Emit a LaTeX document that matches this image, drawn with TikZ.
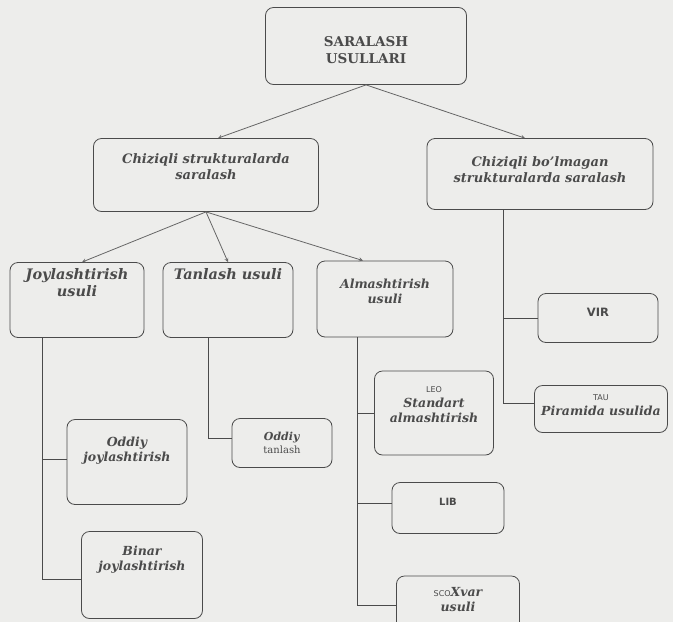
\documentclass[tikz,border=0pt]{standalone}
\usepackage{fontspec}
\setmainfont{DejaVu Serif}
\setsansfont{DejaVu Sans}
\usepackage{tikz}
\usetikzlibrary{shapes, arrows, positioning}
\definecolor{paper}{HTML}{EDEDEB}
\definecolor{ink}{HTML}{4B4B4B}

\begin{document}
\begin{tikzpicture}[x=1pt, y=-1pt]

% Define block styles
\tikzstyle{block} = [rectangle, rounded corners=8pt, draw=ink, line width=0.8pt, inner sep=0pt]
\tikzstyle{txt} = [text=ink, align=center, font=\bfseries\itshape\fontsize{12.5}{15}\selectfont]
\tikzstyle{bigtxt} = [txt, font=\bfseries\itshape\fontsize{14.5}{17}\selectfont]
\tikzstyle{abbr} = [text=ink, font=\sffamily\bfseries\fontsize{11.5}{13}\selectfont]
\tikzstyle{arrow} = [draw=ink!85, line width=0.8pt, ->, >=stealth]
\tikzstyle{line} = [draw=ink, line width=0.8pt]
\newcommand{\smallsf}[1]{{\sffamily\mdseries\upshape\fontsize{8}{10}\selectfont #1}}

% Scanned page
\fill [paper] (0,0) rectangle (673,622);
\useasboundingbox (0,0) rectangle (673,622);

% Define nodes
\node (root) [block, minimum width=201pt, minimum height=77pt, label={[txt, font=\bfseries\fontsize{13.5}{17}\selectfont, yshift=-4pt]center:{SARALASH\\USULLARI}}] at (366,46) {};

\node (lin) [block, minimum width=225pt, minimum height=73pt, label={[txt, font=\bfseries\itshape\fontsize{13}{16}\selectfont, yshift=8pt]center:{Chiziqli strukturalarda\\saralash}}] at (206,175) {};
\node (nonlin) [block, minimum width=226pt, minimum height=71pt, label={[txt, font=\bfseries\itshape\fontsize{13}{16}\selectfont, yshift=4pt]center:{Chiziqli bo'lmagan\\strukturalarda saralash}}] at (540,174) {};

\node (joy) [block, minimum width=134pt, minimum height=75pt, label={[bigtxt, yshift=17pt]center:{Joylashtirish\\usuli}}] at (77,300) {};
\node (tan) [block, minimum width=130pt, minimum height=75pt, label={[bigtxt, yshift=26pt]center:{Tanlash usuli}}] at (228,300) {};
\node (alm) [block, minimum width=136pt, minimum height=76pt, label={[txt, yshift=8pt]center:{Almashtirish\\usuli}}] at (385,299) {};

\node (oddj) [block, minimum width=120pt, minimum height=85pt, label={[txt, yshift=11pt]center:{Oddiy\\joylashtirish}}] at (127,462) {};
\node (binar) [block, minimum width=121pt, minimum height=87pt, label={[txt, yshift=15pt]center:{Binar\\joylashtirish}}] at (142,575) {};
\node (oddt) [block, minimum width=100pt, minimum height=49pt, label={[txt, font=\fontsize{10}{13}\selectfont]center:{\textbf{\textit{\fontsize{11}{13}\selectfont Oddiy}}\\tanlash}}] at (282,443) {};

\node (leo) [block, minimum width=119pt, minimum height=84pt, label={[txt, yshift=8pt]center:{\smallsf{LEO}\\Standart\\almashtirish}}] at (434,413) {};
\node (lib) [block, minimum width=112pt, minimum height=51pt, label={[abbr, font=\sffamily\bfseries\fontsize{10}{12}\selectfont, yshift=6pt]center:{LIB}}] at (448,508) {};
\node (sco) [block, minimum width=123pt, minimum height=64pt, label={[txt, yshift=8pt]center:{\smallsf{SCO}Xvar\\usuli}}] at (458,608) {};

\node (vir) [block, minimum width=120pt, minimum height=49pt, label={[abbr, yshift=6pt]center:{VIR}}] at (598,318) {};
\node (tau) [block, minimum width=133pt, minimum height=47pt, label={[txt, yshift=4pt]center:{\smallsf{TAU}\\Piramida usulida}}] at (601,409) {};

% Draw arrows
\draw [arrow] (root.south) -- ([xshift=12pt]lin.north);
\draw [arrow] (root.south) -- ([xshift=-15pt]nonlin.north);
\draw [arrow] (lin.south) -- ([xshift=5pt]joy.north);
\draw [arrow] (lin.south) -- (tan.north);
\draw [arrow] (lin.south) -- ([xshift=-22pt]alm.north);

% Branch lines
\draw [line] ([xshift=-35pt]joy.south) |- ([yshift=3pt]oddj.west);
\draw [line] ([xshift=-35pt]joy.south) |- ([yshift=-4pt]binar.west);
\draw [line] ([xshift=-20pt]tan.south) |- ([yshift=5pt]oddt.west);
\draw [line] ([xshift=-28pt]alm.south) |- (leo.west);
\draw [line] ([xshift=-28pt]alm.south) |- ([yshift=5pt]lib.west);
\draw [line] ([xshift=-28pt]alm.south) |- ([yshift=3pt]sco.west);
\draw [line] ([xshift=-37pt]nonlin.south) |- (vir.west);
\draw [line] ([xshift=-37pt]nonlin.south) |- ([yshift=6pt]tau.west);

\end{tikzpicture}
\end{document}
